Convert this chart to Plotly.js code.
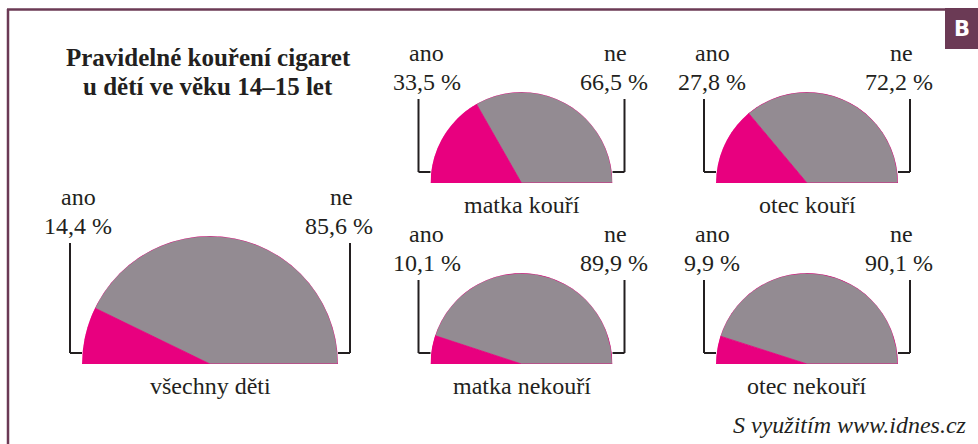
<!DOCTYPE html>
<html>
<head>
<meta charset="utf-8">
<script src="https://cdn.plot.ly/plotly-3.0.1.min.js"></script>
<style>
html,body{margin:0;padding:0;background:#fff;overflow:hidden;}
#chart{width:978px;height:444px;}
#chart svg text{font-family:'Liberation Serif','DejaVu Serif',serif !important;}
</style>
</head>
<body>
<div id="chart"></div>
<script>
// ---- data ----
const categories = ['všechny děti', 'matka kouří', 'otec kouří', 'matka nekouří', 'otec nekouří'];
const anoValues = [14.4, 33.5, 27.8, 10.1, 9.9];
const neValues = [85.6, 66.5, 72.2, 89.9, 90.1];
const anoLabel = 'ano';
const neLabel = 'ne';
const titleLines = ['Pravidelné kouření cigaret', 'u dětí ve věku 14–15 let'];
const sourceText = 'S využitím www.idnes.cz';
const badgeText = 'B';

// ---- layout geometry (pixels) ----
const W = 978, H = 444;
const geo = [
  {cx: 210, base: 364, r: 128},
  {cx: 521.5, base: 183, r: 91},
  {cx: 807, base: 183, r: 91},
  {cx: 521.5, base: 364, r: 91},
  {cx: 807, base: 364, r: 91}
];
const PINK = '#e8007f', GRAY = '#938b92', INK = '#231f20', FRAME = '#6b3a55';
const FONT = 'Liberation Serif';
const FS = 24;
const fx = p => p / W;
const fy = p => 1 - p / H;
const fmt = v => v.toFixed(1).replace('.', ',') + ' %';
const serif = t => '<span style="font-family:Liberation Serif">' + t + '</span>';

const data = [];
const layout = {
  width: W, height: H,
  margin: {l: 0, r: 0, t: 0, b: 0},
  paper_bgcolor: '#fff',
  showlegend: false,
  dragmode: false,
  hovermode: false,
  font: {family: FONT, color: INK},
  shapes: [],
  annotations: []
};

categories.forEach((cat, i) => {
  const g = geo[i];
  const key = i === 0 ? 'polar' : 'polar' + (i + 1);
  layout[key] = {
    domain: {x: [fx(g.cx - g.r), fx(g.cx + g.r)], y: [(H - g.base) / H, (H - g.base + g.r) / H]},
    sector: [0, 180],
    hole: 0,
    bgcolor: 'rgba(0,0,0,0)',
    radialaxis: {visible: false, range: [0, 1]},
    angularaxis: {visible: false, direction: 'counterclockwise', rotation: 0}
  };
  const a = anoValues[i], n = neValues[i];
  data.push({
    type: 'barpolar',
    subplot: key,
    r: [1, 1],
    theta: [180 - a * 0.9, n * 0.9],
    width: [a * 1.8, n * 1.8],
    marker: {color: [PINK, GRAY], line: {color: PINK, width: 0.8}},
    hoverinfo: 'skip'
  });

  const top = g.base - g.r;
  const lx = g.cx - g.r - 12, rx = g.cx + g.r + 12;
  const by = g.base - 11, ty = top + 7;
  const ln = {type: 'line', xref: 'paper', yref: 'paper', line: {color: INK, width: 2}};
  layout.shapes.push(Object.assign({}, ln, {x0: fx(lx), x1: fx(lx), y0: fy(ty), y1: fy(by)}));
  layout.shapes.push(Object.assign({}, ln, {x0: fx(lx), x1: fx(g.cx - g.r), y0: fy(by), y1: fy(by)}));
  layout.shapes.push(Object.assign({}, ln, {x0: fx(rx), x1: fx(rx), y0: fy(ty), y1: fy(by)}));
  layout.shapes.push(Object.assign({}, ln, {x0: fx(rx), x1: fx(g.cx + g.r), y0: fy(by), y1: fy(by)}));

  const ann = (text, x, y) => ({text: serif(text), x: fx(x), y: fy(y), xref: 'paper', yref: 'paper',
    xanchor: 'center', yanchor: 'middle', showarrow: false, font: {family: FONT, size: FS, color: INK}});
  layout.annotations.push(ann(anoLabel, lx + 8, top - 39));
  layout.annotations.push(ann(fmt(a), lx + 8, top - 10));
  layout.annotations.push(ann(neLabel, rx - 9, top - 39));
  layout.annotations.push(ann(fmt(n), rx - 11, top - 10));
  layout.annotations.push(ann(cat, g.cx, g.base + 22));
});

// frame + badge
layout.shapes.push({type: 'line', xref: 'paper', yref: 'paper', x0: fx(8), x1: fx(8), y0: fy(9), y1: fy(450), line: {color: FRAME, width: 2.5}});
layout.shapes.push({type: 'line', xref: 'paper', yref: 'paper', x0: fx(7), x1: fx(946), y0: fy(9.5), y1: fy(9.5), line: {color: FRAME, width: 2.5}});
layout.shapes.push({type: 'rect', xref: 'paper', yref: 'paper', x0: fx(945), x1: fx(980), y0: fy(8), y1: fy(49), fillcolor: FRAME, line: {width: 0}});
layout.annotations.push({text: '<span style="font-family:DejaVu Sans"><b>' + badgeText + '</b></span>', x: fx(962), y: fy(29), xref: 'paper', yref: 'paper', xanchor: 'center', yanchor: 'middle', showarrow: false, font: {family: 'DejaVu Sans', size: 21, color: '#fff'}});

// title
titleLines.forEach((t, k) => {
  layout.annotations.push({text: serif('<b>' + t + '</b>'), x: fx(208), y: fy(57 + k * 29), xref: 'paper', yref: 'paper', xanchor: 'center', yanchor: 'middle', showarrow: false, font: {family: FONT, size: 25, color: INK}});
});
// source
layout.annotations.push({text: serif('<i>' + sourceText + '</i>'), x: fx(969), y: fy(425), xref: 'paper', yref: 'paper', xanchor: 'right', yanchor: 'middle', showarrow: false, font: {family: FONT, size: 24, color: INK}});

Plotly.newPlot('chart', data, layout, {displayModeBar: false});
</script>
</body>
</html>
